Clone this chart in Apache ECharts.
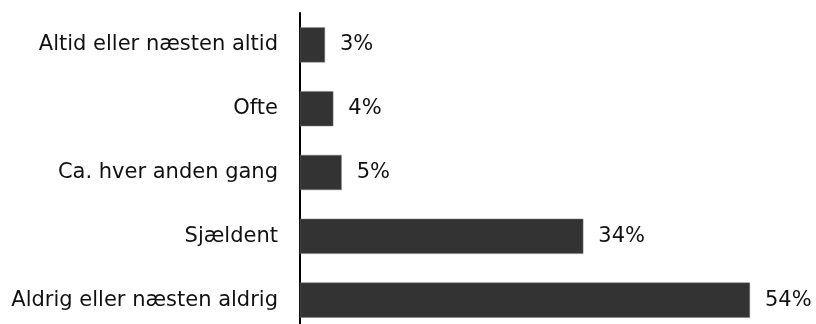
<!DOCTYPE html>
<html>
<head>
<meta charset="utf-8">
<script src="https://cdn.jsdelivr.net/npm/echarts@6/dist/echarts.min.js"></script>
<style>
  html, body { margin: 0; padding: 0; background: #fff; }
  #chart { width: 816px; height: 324px; }
</style>
</head>
<body>
<div id="chart"></div>
<script>
// Answer categories, top to bottom
const categories = [
  'Altid eller næsten altid',
  'Ofte',
  'Ca. hver anden gang',
  'Sjældent',
  'Aldrig eller næsten aldrig'
];
// Share of respondents (%)
const shares = [3, 4, 5, 34, 54];

const chart = echarts.init(document.getElementById('chart'));
const font = '"DejaVu Sans", Verdana, sans-serif';

chart.setOption({
  animation: false,
  grid: {
    left: 300, top: 13, width: 500, height: 319,
    containLabel: false,
    outerBoundsMode: 'none'
  },
  xAxis: {
    type: 'value',
    min: 0,
    max: 60,
    show: false
  },
  yAxis: {
    type: 'category',
    data: categories,
    inverse: true,
    axisLine: { show: true, lineStyle: { color: '#000', width: 2 } },
    axisTick: { show: false },
    axisLabel: {
      margin: 22,
      color: '#111',
      fontFamily: font,
      fontSize: 21
    },
    splitLine: { show: false }
  },
  series: [{
    type: 'bar',
    data: shares,
    barCategoryGap: '45%',
    itemStyle: { color: '#333333', borderColor: '#777', borderWidth: 0.5 },
    label: {
      show: true,
      position: 'right',
      distance: 15,
      color: '#111',
      fontFamily: font,
      fontSize: 21,
      formatter: p => p.value + '%'
    }
  }]
});
</script>
</body>
</html>
